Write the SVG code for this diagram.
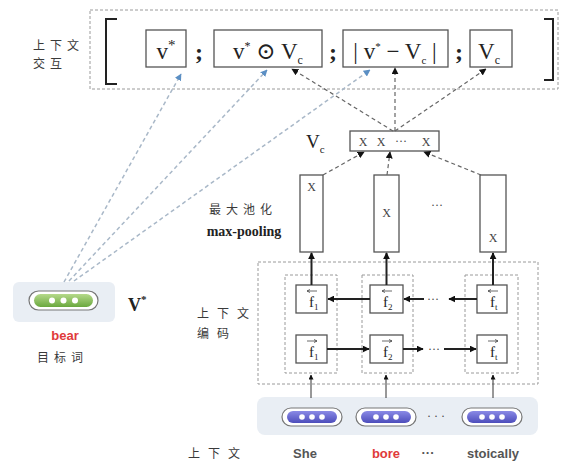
<svg xmlns="http://www.w3.org/2000/svg" width="563" height="465" viewBox="0 0 563 465">
<defs>
<style>
.dash{fill:none;stroke:#9a9a9a;stroke-width:1;stroke-dasharray:3,2}
.box{fill:#fff;stroke:#555;stroke-width:1.3}
.math{font-family:"Liberation Serif","DejaVu Serif",serif;fill:#222}
.cjk{font-family:"Noto Sans CJK SC","Liberation Serif",sans-serif;fill:#3a3a3a;font-size:12px;letter-spacing:5px}
.wide{letter-spacing:8px}
.word{font-family:"Liberation Sans",Arial,sans-serif;font-weight:bold;font-size:13px;fill:#555}
.red{fill:#e03a3a}
.blk{stroke:#222;stroke-width:2;fill:none}
.thin{stroke:#333;stroke-width:1;fill:none}
.kdash{stroke:#666;stroke-width:1.2;stroke-dasharray:4,3;fill:none}
.bdash{stroke:#a9b8c8;stroke-width:1.5;stroke-dasharray:4,3;fill:none}
.bg{fill:#e9eef4}
.x{font-family:"Liberation Serif",serif;font-size:12px;fill:#444;text-anchor:middle}
</style>
<marker id="ah" viewBox="0 0 10 10" refX="9" refY="5" markerWidth="7" markerHeight="7" orient="auto" markerUnits="userSpaceOnUse"><path d="M0,0L10,5L0,10z" fill="#111"/></marker>
<marker id="ahs" viewBox="0 0 10 10" refX="9" refY="5" markerWidth="5" markerHeight="5" orient="auto" markerUnits="userSpaceOnUse"><path d="M0,0L10,5L0,10z" fill="#111"/></marker>
<marker id="ahb" viewBox="0 0 10 10" refX="9" refY="5" markerWidth="7" markerHeight="7" orient="auto" markerUnits="userSpaceOnUse"><path d="M0,0L10,5L0,10z" fill="#5b8fc4"/></marker>
<linearGradient id="blue" x1="0" y1="0" x2="0" y2="1"><stop offset="0" stop-color="#8a8ae6"/><stop offset="1" stop-color="#4d4dbb"/></linearGradient>
<linearGradient id="green" x1="0" y1="0" x2="0" y2="1"><stop offset="0" stop-color="#b5d98a"/><stop offset="1" stop-color="#6aa83e"/></linearGradient>
<g id="pillB"><rect x="-30" y="-9" width="60" height="18" rx="9" fill="#fff" stroke="#777" stroke-width="1.2"/><rect x="-25" y="-6" width="50" height="12" rx="6" fill="url(#blue)"/><circle cx="-10" cy="0" r="2.8" fill="#fff"/><circle cx="0" cy="0" r="2.8" fill="#fff"/><circle cx="10" cy="0" r="2.8" fill="#fff"/></g>
</defs>
<rect width="563" height="465" fill="#fff"/>

<g id="interaction">
<rect class="dash" x="90" y="10" width="468" height="79"/>
<text class="cjk" x="33" y="50">上下文</text>
<text class="cjk" x="33" y="68">交互</text>
<path d="M117,19H106V84H117" stroke="#222" stroke-width="2" fill="none"/>
<path d="M544,19H553V80H544" stroke="#222" stroke-width="2" fill="none"/>
<g id="box-v"><rect class="box" x="146" y="30" width="40" height="37"/><text class="math" x="166" y="59" font-size="23" text-anchor="middle">v<tspan font-size="15" dy="-9">*</tspan></text></g>
<text class="math" x="199" y="60" font-size="24" text-anchor="middle" font-weight="bold">;</text>
<g id="box-prod"><rect class="box" x="214" y="30" width="108" height="37"/><text class="math" x="268" y="59" font-size="23" text-anchor="middle">v<tspan font-size="12" dy="-9">*</tspan><tspan dy="9"> ⊙ V</tspan><tspan font-size="12" dy="5">c</tspan></text></g>
<text class="math" x="333" y="60" font-size="24" text-anchor="middle" font-weight="bold">;</text>
<g id="box-diff"><rect class="box" x="343" y="30" width="105" height="37"/><text class="math" x="395" y="59" font-size="23" text-anchor="middle">| v<tspan font-size="11" dy="-9">*</tspan><tspan dy="9"> − V</tspan><tspan font-size="11" dy="5">c</tspan><tspan dy="-5"> |</tspan></text></g>
<text class="math" x="459" y="60" font-size="24" text-anchor="middle" font-weight="bold">;</text>
<g id="box-vc"><rect class="box" x="470" y="30" width="42" height="37"/><text class="math" x="489" y="59" font-size="23" text-anchor="middle">V<tspan font-size="12" dy="5">c</tspan></text></g>
</g>

<g id="vc">
<text class="math" x="306" y="148" font-size="19">V<tspan font-size="11" dy="5">c</tspan></text>
<rect class="box" x="350" y="131" width="89" height="20"/>
<text class="x" x="363" y="146">X</text><text class="x" x="381" y="146">X</text><text class="x" x="401" y="145">···</text><text class="x" x="426" y="146">X</text>
</g>

<g id="maxpool">
<text class="cjk" x="209" y="214">最大池化</text>
<text class="math" x="244" y="236" font-size="14" font-weight="bold" text-anchor="middle">max-pooling</text>
<rect class="box" x="300" y="175" width="23" height="77"/><text class="x" x="311.5" y="191">X</text>
<rect class="box" x="374" y="175" width="25" height="77"/><text class="x" x="386.5" y="217">X</text>
<rect class="box" x="480" y="175" width="26" height="77"/><text class="x" x="493" y="242">X</text>
<text class="x" x="437" y="209">···</text>
</g>

<g id="encoder">
<rect class="dash" x="258" y="262" width="280" height="122"/>
<text class="cjk wide" x="197" y="318">上下文</text>
<text class="cjk wide" x="197" y="338">编码</text>
<rect class="dash" x="285" y="275" width="52" height="98"/>
<rect class="dash" x="362" y="275" width="51" height="98"/>
<rect class="dash" x="465" y="275" width="53" height="98"/>
<g id="fb1"><rect class="box" x="296" y="285" width="31" height="28"/><path d="M307,291h10M307,291l3,-1.5M307,291l3,1.5" stroke="#444" stroke-width="0.8" fill="none"/><text class="math" x="309" y="307" font-size="15">f<tspan font-size="9" dy="3">1</tspan></text></g>
<g id="fb2"><rect class="box" x="370" y="285" width="33" height="28"/><path d="M382,291h10M382,291l3,-1.5M382,291l3,1.5" stroke="#444" stroke-width="0.8" fill="none"/><text class="math" x="383" y="307" font-size="15">f<tspan font-size="9" dy="3">2</tspan></text></g>
<g id="fbt"><rect class="box" x="477" y="285" width="30" height="28"/><path d="M488,291h10M488,291l3,-1.5M488,291l3,1.5" stroke="#444" stroke-width="0.8" fill="none"/><text class="math" x="490" y="307" font-size="15">f<tspan font-size="9" dy="3">t</tspan></text></g>
<g id="ff1"><rect class="box" x="296" y="335" width="31" height="28"/><path d="M307,341h10M317,341l-3,-1.5M317,341l-3,1.5" stroke="#444" stroke-width="0.8" fill="none"/><text class="math" x="309" y="357" font-size="15">f<tspan font-size="9" dy="3">1</tspan></text></g>
<g id="ff2"><rect class="box" x="370" y="335" width="33" height="28"/><path d="M382,341h10M392,341l-3,-1.5M392,341l-3,1.5" stroke="#444" stroke-width="0.8" fill="none"/><text class="math" x="383" y="357" font-size="15">f<tspan font-size="9" dy="3">2</tspan></text></g>
<g id="fft"><rect class="box" x="477" y="335" width="30" height="28"/><path d="M488,341h10M498,341l-3,-1.5M498,341l-3,1.5" stroke="#444" stroke-width="0.8" fill="none"/><text class="math" x="490" y="357" font-size="15">f<tspan font-size="9" dy="3">t</tspan></text></g>
<text class="x" x="433" y="303">···</text>
<text class="x" x="434" y="353">···</text>
</g>

<g id="target">
<rect class="bg" x="13" y="282" width="102" height="40" rx="6"/>
<rect x="29" y="291" width="69" height="19" rx="9.5" fill="#fff" stroke="#777" stroke-width="1.2"/>
<rect x="34" y="294" width="59" height="13" rx="6.5" fill="url(#green)"/>
<circle cx="52" cy="300.5" r="3" fill="#fff"/><circle cx="63.5" cy="300.5" r="3" fill="#fff"/><circle cx="75" cy="300.5" r="3" fill="#fff"/>
<text class="math" x="128" y="311" font-size="18" font-weight="bold">V<tspan font-size="11" dy="-8">*</tspan></text>
<text class="word red" x="65" y="340" text-anchor="middle">bear</text>
<text class="cjk" x="37" y="362">目标词</text>
</g>

<g id="context">
<rect class="bg" x="257" y="397" width="281" height="38" rx="8"/>
<use href="#pillB" x="312" y="417"/>
<use href="#pillB" x="386" y="417"/>
<use href="#pillB" x="492" y="417"/>
<text class="x" x="436" y="420">· · ·</text>
<text class="cjk wide" x="188" y="458">上下文</text>
<text class="word" x="305" y="458" text-anchor="middle">She</text>
<text class="word red" x="386" y="458" text-anchor="middle">bore</text>
<text class="word" x="428" y="457" text-anchor="middle">···</text>
<text class="word" x="493" y="458" text-anchor="middle">stoically</text>
</g>

<g id="connectors">
<path class="thin" d="M311,398V375" marker-end="url(#ahs)"/>
<path class="thin" d="M386,398V375" marker-end="url(#ahs)"/>
<path class="thin" d="M493,398V375" marker-end="url(#ahs)"/>
<path class="blk" d="M327,349H369" marker-end="url(#ah)"/>
<path class="blk" d="M403,349H423" marker-end="url(#ah)"/>
<path class="blk" d="M444,349H476" marker-end="url(#ah)"/>
<path class="blk" d="M370,299H328" marker-end="url(#ah)"/>
<path class="blk" d="M424,299H404" marker-end="url(#ah)"/>
<path class="blk" d="M477,299H449" marker-end="url(#ah)"/>
<path class="blk" d="M311.5,285V253" marker-end="url(#ah)"/>
<path class="blk" d="M386.5,285V253" marker-end="url(#ah)"/>
<path class="blk" d="M493,285V253" marker-end="url(#ah)"/>
<path class="kdash" d="M323,175L364,152" marker-end="url(#ah)"/>
<path class="kdash" d="M387,175L390,152" marker-end="url(#ah)"/>
<path class="kdash" d="M481,175L424,152" marker-end="url(#ah)"/>
<path class="kdash" d="M393,131L292,69" marker-end="url(#ah)"/>
<path class="kdash" d="M395,131V68" marker-end="url(#ah)"/>
<path class="kdash" d="M395,131L486,69" marker-end="url(#ah)"/>
<path class="bdash" d="M64,282L181,74" marker-end="url(#ahb)"/>
<path class="bdash" d="M69,281L267,70" marker-end="url(#ahb)"/>
<path class="bdash" d="M74,281L370,70" marker-end="url(#ahb)"/>
</g>
</svg>
